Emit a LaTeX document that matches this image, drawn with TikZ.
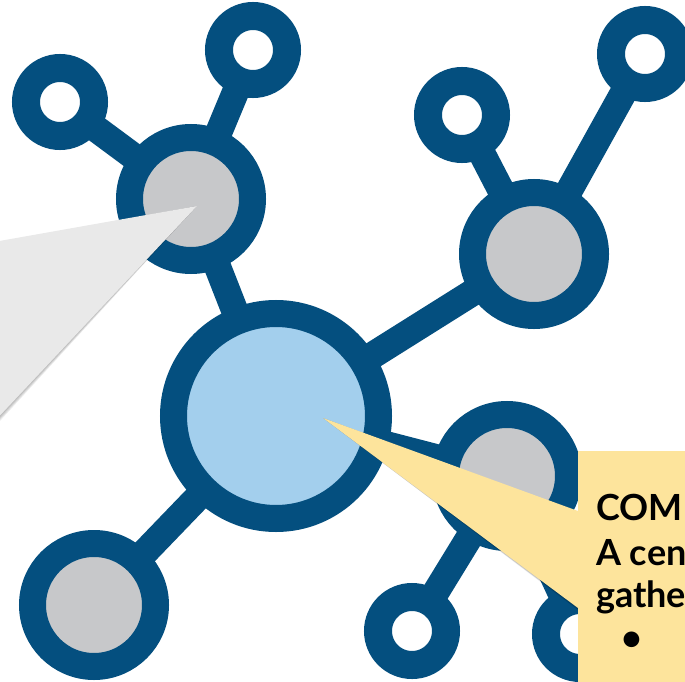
\documentclass[tikz,border=0pt]{standalone}
\usepackage{fontspec}
\setmainfont{Lato}
\definecolor{ringblue}{RGB}{4,79,127}
\definecolor{hubfill}{RGB}{163,207,237}
\definecolor{leaffill}{RGB}{199,200,202}
\definecolor{calloutyellow}{RGB}{253,228,156}
\definecolor{calloutgray}{RGB}{233,233,233}
\pgfdeclarelayer{edgelayer}
\pgfsetlayers{edgelayer,main}
\tikzset{
  hubnode/.style={circle, inner sep=0pt, fill=hubfill, draw=ringblue, line width=27pt, minimum size=205pt},
  leafnode/.style={circle, inner sep=0pt, fill=leaffill, draw=ringblue, line width=27pt, minimum size=123pt},
  endnode/.style={circle, inner sep=0pt, fill=white, draw=ringblue, line width=28pt, minimum size=68pt},
  link/.style={draw=ringblue, line width=27pt},
  softshadow/.style={fill=black, opacity=0.07},
  callouttext/.style={font=\fontsize{36}{44}\selectfont\bfseries, text=black, inner sep=0pt}
}
\begin{document}
\begin{tikzpicture}[x=1pt,y=-1pt]
\useasboundingbox (0,0) rectangle (685,682);
% nodes
\node[hubnode] (hub) at (276,416) {};
\node[leafnode] (tl) at (191,199) {};
\node[leafnode] (tr) at (534,254) {};
\node[leafnode] (mr) at (507,476) {};
\node[leafnode] (bl) at (94,605) {};
\node[endnode] (tl1) at (60,102) {};
\node[endnode] (tl2) at (253,50) {};
\node[endnode] (tr1) at (462,115) {};
\node[endnode] (tr2) at (645,54) {};
\node[endnode] (mr1) at (412,631) {};
\node[endnode] (mr2) at (580,634) {};
% edges behind nodes
\begin{pgfonlayer}{edgelayer}
  \fill[white] (0,0) rectangle (685,682);
  \draw[link] (hub.center) -- (tl.center);
  \draw[link] (hub.center) -- (tr.center);
  \draw[link] (hub.center) -- (mr.center);
  \draw[link] (hub.center) -- (bl.center);
  \draw[link] (tl.center) -- (tl1.center);
  \draw[link] (tl.center) -- (tl2.center);
  \draw[link] (tr.center) -- (tr1.center);
  \draw[link] (tr.center) -- (tr2.center);
  \draw[link] (mr.center) -- (mr1.center);
  \draw[link] (mr.center) -- (mr2.center);
\end{pgfonlayer}
\begin{scope}
\clip (0,0) rectangle (685,682);
% gray callout (box off to the left)
\coordinate (tipG) at (197,206);
\foreach \s in {1,2,3,4}
  \fill[softshadow, shift={(0.6*\s,1.0*\s)}] (tipG) -- (-40,248) -- (-40,458) -- cycle;
\fill[calloutgray] (tipG) -- (-40,248) -- (-40,458) -- cycle;
% yellow callout
\coordinate (tipY) at (323,418);
\foreach \s in {1,2,3,4}
  \fill[softshadow, shift={(0.6*\s,1.0*\s)}] (tipY) -- (578,511) -- (578,451) -- (740,451) -- (740,740) -- (578,740) -- (578,608) -- cycle;
\fill[calloutyellow] (tipY) -- (578,511) -- (578,451) -- (740,451) -- (740,740) -- (578,740) -- (578,608) -- cycle;
\node[callouttext, anchor=base west] (t1) at (596,520) {COM};
\node[callouttext, anchor=base west] (t2) at (596,565) {A cen};
\node[callouttext, anchor=base west] (t3) at (596,607) {gathe};
\node[callouttext] (t4) at (632,641) {•};
\end{scope}
\end{tikzpicture}
\end{document}
